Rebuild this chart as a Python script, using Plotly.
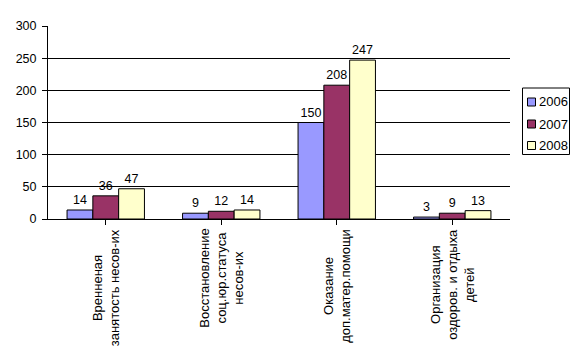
import plotly.graph_objects as go

categories = [
    "Вренненая<br>занятость несов-их",
    "Восстановление<br>соц.юр.статуса<br>несов-их",
    "Оказание<br>доп.матер.помощи",
    "Организация<br>оздоров. и отдыха<br>детей",
]
series_names = ["2006", "2007", "2008"]
values_2006 = [14, 9, 150, 3]
values_2007 = [36, 12, 208, 9]
values_2008 = [47, 14, 247, 13]
y_ticks = [0, 50, 100, 150, 200, 250, 300]

colors = ["#9999FF", "#993366", "#FFFFCC"]
FONT = "Liberation Sans, Arial, sans-serif"

# page body has an 8px default margin; figure is sized to fit within the window
W, H = 572, 354
PL, PR, PT, PB = 48, 510, 26, 219  # plot area in page pixels


def px(xp):
    return (xp - PL) / (PR - PL)


def py(yp):
    return (PB - yp) / (PB - PT)


fig = go.Figure()
for name, vals, col in zip(series_names, [values_2006, values_2007, values_2008], colors):
    fig.add_trace(go.Bar(
        x=list(range(len(categories))), y=vals, name=name,
        marker=dict(color=col, line=dict(color="black", width=1)),
        text=[str(v) for v in vals], textposition="outside",
        textfont=dict(family=FONT, size=12.5, color="black"),
        cliponaxis=False, showlegend=False,
    ))

for i, cat in enumerate(categories):
    fig.add_annotation(
        x=i, xref="x", y=0, yref="paper", yshift=-8,
        text=cat, textangle=-90, showarrow=False,
        xanchor="center", yanchor="top", align="center",
        font=dict(family=FONT, size=13, color="black"),
    )

# hand-drawn legend (Excel style)
fig.add_shape(type="rect", xref="paper", yref="paper",
              x0=px(522.5), x1=px(569.5), y0=py(88), y1=py(154.5),
              line=dict(color="black", width=1), fillcolor="white")
row_centers = [102, 124, 145.5]
for name, col, cy in zip(series_names, colors, row_centers):
    fig.add_shape(type="rect", xref="paper", yref="paper",
                  x0=px(527.5), x1=px(535.5), y0=py(cy - 4), y1=py(cy + 4),
                  line=dict(color="black", width=1), fillcolor=col)
    fig.add_annotation(x=px(537), y=py(cy), xref="paper", yref="paper",
                       text=name, showarrow=False, xanchor="left", yanchor="middle",
                       font=dict(family=FONT, size=13, color="black"))

fig.update_layout(
    width=W, height=H,
    margin=dict(l=PL - 8, r=W - (PR - 8), t=PT - 8, b=H - (PB - 8), autoexpand=False),
    paper_bgcolor="white", plot_bgcolor="white",
    barmode="group", bargap=0.33, bargroupgap=0,
    font=dict(family=FONT, size=12, color="black"),
    showlegend=False,
    xaxis=dict(
        range=[-0.5, 3.5], tickmode="array", tickvals=list(range(4)),
        showticklabels=False, tickson="boundaries", ticks="outside",
        ticklen=5, tickcolor="black", showline=True, linecolor="black",
        linewidth=1, showgrid=False, zeroline=False,
    ),
    yaxis=dict(
        range=[0, 300], tickvals=y_ticks, ticks="outside", ticklen=5,
        tickcolor="black", showline=True, linecolor="black", linewidth=1,
        showgrid=True, gridcolor="black", gridwidth=1, zeroline=False,
        tickfont=dict(family=FONT, size=12.5, color="black"),
        ticklabelstandoff=3,
    ),
)

fig.write_html("out.html")
